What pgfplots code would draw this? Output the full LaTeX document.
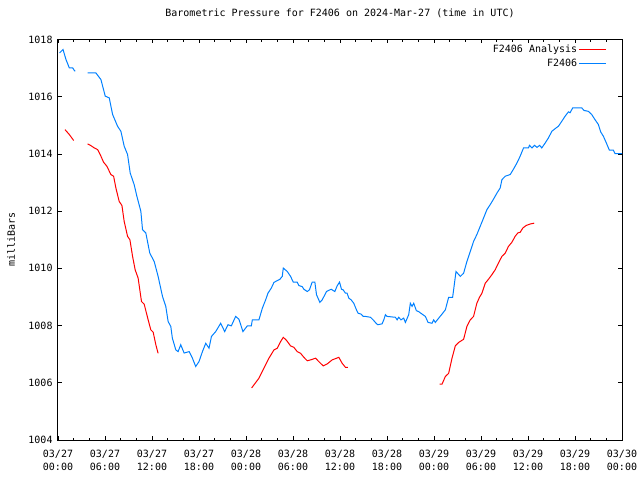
\documentclass[border=0pt]{standalone}
\usepackage{pgfplots}
\pgfplotsset{compat=1.18}
\usepackage{fontspec}
\setmainfont{DejaVu Sans Mono}
\setmonofont{DejaVu Sans Mono}
\definecolor{pblue}{RGB}{0,128,255}
\definecolor{pred}{RGB}{255,0,0}
\begin{document}
\fontsize{9.8}{12}\selectfont
\begin{tikzpicture}
\path[use as bounding box] (-58pt,-40pt) rectangle (582pt,440pt);
\begin{axis}[
  at={(0pt,0pt)}, anchor=south west,
  scale only axis, width=564pt, height=400.5pt,
  xmin=0, xmax=72, ymin=1004, ymax=1018,
  xtick={0,6,...,72},
  xticklabels={{03/27\\00:00},{03/27\\06:00},{03/27\\12:00},{03/27\\18:00},{03/28\\00:00},{03/28\\06:00},{03/28\\12:00},{03/28\\18:00},{03/29\\00:00},{03/29\\06:00},{03/29\\12:00},{03/29\\18:00},{03/30\\00:00}},
  minor x tick num=2,
  ytick={1004,1006,...,1018},
  /pgf/number format/1000 sep={},
  /pgf/number format/assume math mode=true,
  tick align=inside,
  major tick length=4pt, minor tick length=2.5pt,
  tick style={black, line width=0.8pt},
  axis line style={line width=1pt},
  xticklabel style={align=center, font=\fontsize{10}{12.5}\selectfont, yshift=-7pt},
  yticklabel style={font=\fontsize{10}{12}\selectfont, xshift=-2pt},
  title={Barometric Pressure for F2406 on 2024-Mar-27 (time in UTC)},
  title style={at={(0.5,1)}, anchor=center, yshift=20pt, font=\fontsize{10}{12}\selectfont},
  ylabel={milliBars},
  ylabel style={at={(axis description cs:-0.083,0.5)}, anchor=center, font=\fontsize{10}{12}\selectfont},
  legend style={at={(1,1)}, anchor=north east, xshift=-12pt, yshift=-2pt, draw=none, fill=none, font=\fontsize{10}{12}\selectfont, row sep=1.5pt, nodes={inner sep=1.5pt}},
  legend cell align=right,
  legend plot pos=right,
  every axis plot/.append style={line width=1pt},
]
\addlegendimage{legend image code/.code={\draw[draw=pred, line width=1.1pt] (0pt,0pt) -- (27pt,0pt);}}
\addlegendentry{F2406 Analysis}
\addlegendimage{legend image code/.code={\draw[draw=pblue, line width=1.1pt] (0pt,0pt) -- (27pt,0pt);}}
\addlegendentry{F2406}
\addplot[pred, forget plot] coordinates {(0.89,1014.85)(1.44,1014.68)(2.0,1014.47)};
\addplot[pblue, forget plot] coordinates {(0.2,1017.53)(0.64,1017.65)(1.02,1017.3)(1.44,1017.01)(1.87,1017.01)(2.08,1016.92)(2.2,1016.89)};

\addplot[pred, forget plot] coordinates {
(3.78,1014.35)(4.2,1014.29)(4.63,1014.21)(5.06,1014.15)(5.48,1013.92)(5.82,1013.71)(6.24,1013.57)(6.75,1013.28)(7.1,1013.22)(7.39,1012.81)(7.81,1012.34)(8.16,1012.2)(8.45,1011.64)(8.88,1011.12)(9.18,1011.0)(9.52,1010.42)(9.85,1009.95)(10.23,1009.66)(10.66,1008.84)(11.0,1008.75)(11.51,1008.2)(11.85,1007.85)(12.15,1007.77)(12.49,1007.33)(12.78,1007.03)};
\addplot[pred, forget plot] coordinates {
(24.72,1005.82)(25.65,1006.16)(26.29,1006.51)(26.93,1006.86)(27.57,1007.15)(28.0,1007.21)(28.42,1007.44)(28.76,1007.59)(29.18,1007.48)(29.69,1007.29)(30.11,1007.24)(30.54,1007.09)(30.97,1007.03)(31.39,1006.89)(31.82,1006.77)(32.24,1006.8)(32.88,1006.86)(33.3,1006.74)(33.86,1006.59)(34.37,1006.66)(35.0,1006.8)(35.85,1006.89)(36.28,1006.68)(36.7,1006.54)(37.0,1006.54)};
\addplot[pred, forget plot] coordinates {
(48.72,1005.95)(49.02,1005.95)(49.45,1006.22)(49.87,1006.33)(50.3,1006.86)(50.72,1007.29)(51.14,1007.41)(51.78,1007.52)(52.2,1007.97)(52.63,1008.2)(53.05,1008.32)(53.47,1008.78)(53.81,1008.99)(54.12,1009.13)(54.54,1009.48)(54.96,1009.62)(55.39,1009.78)(55.81,1009.95)(56.24,1010.19)(56.67,1010.42)(57.09,1010.53)(57.51,1010.77)(57.94,1010.91)(58.36,1011.12)(58.71,1011.24)(59.0,1011.26)(59.34,1011.41)(59.77,1011.5)(60.28,1011.55)(60.79,1011.58)};

\addplot[pblue, forget plot] coordinates {
(3.78,1016.83)(4.84,1016.83)(5.48,1016.6)(6.03,1016.02)(6.54,1015.96)(6.97,1015.38)(7.6,1014.97)(8.03,1014.79)(8.45,1014.27)(8.88,1013.98)(9.22,1013.33)(9.72,1012.93)(10.07,1012.52)(10.58,1011.99)(10.79,1011.35)(11.21,1011.24)(11.72,1010.53)(12.28,1010.24)(12.78,1009.72)(13.34,1009.02)(13.76,1008.67)(14.06,1008.14)(14.4,1007.97)(14.6,1007.56)(15.04,1007.15)(15.33,1007.09)(15.67,1007.33)(16.1,1007.04)(16.74,1007.09)(17.16,1006.86)(17.58,1006.57)(18.0,1006.74)(18.44,1007.09)(18.86,1007.38)(19.28,1007.21)(19.59,1007.62)(20.13,1007.79)(20.77,1008.08)(21.28,1007.79)(21.7,1008.03)(22.13,1007.99)(22.68,1008.32)(23.1,1008.22)(23.61,1007.79)(24.17,1007.99)(24.68,1007.99)(24.81,1008.2)(25.65,1008.2)(26.09,1008.61)(26.51,1008.9)(26.8,1009.13)(27.23,1009.31)(27.57,1009.51)(28.33,1009.62)(28.63,1009.72)(28.76,1010.01)(29.27,1009.89)(29.69,1009.72)(30.03,1009.52)(30.54,1009.52)(30.75,1009.4)(31.18,1009.36)(31.39,1009.27)(31.82,1009.19)(32.1,1009.25)(32.45,1009.52)(32.79,1009.52)(33.0,1009.08)(33.43,1008.81)(33.73,1008.9)(34.28,1009.19)(34.87,1009.27)(35.34,1009.19)(35.64,1009.39)(35.94,1009.52)(36.19,1009.27)(36.4,1009.25)(36.7,1009.13)(36.91,1009.13)(37.12,1008.96)(37.42,1008.9)(37.76,1008.78)(38.1,1008.55)(38.32,1008.43)(38.7,1008.4)(38.96,1008.32)(39.25,1008.32)(39.89,1008.29)(40.23,1008.2)(40.61,1008.08)(40.82,1008.03)(41.37,1008.06)(41.59,1008.2)(41.8,1008.38)(42.01,1008.32)(43.07,1008.29)(43.29,1008.2)(43.49,1008.29)(43.79,1008.2)(44.13,1008.26)(44.35,1008.11)(44.77,1008.38)(44.98,1008.78)(45.2,1008.67)(45.41,1008.78)(45.75,1008.52)(46.04,1008.49)(46.48,1008.4)(46.9,1008.32)(47.24,1008.11)(47.75,1008.08)(47.96,1008.2)(48.17,1008.11)(48.6,1008.26)(49.02,1008.4)(49.45,1008.55)(49.87,1008.99)(50.38,1008.99)(50.81,1009.89)(51.36,1009.72)(51.78,1009.83)(52.2,1010.24)(52.63,1010.59)(53.05,1010.94)(53.47,1011.18)(53.9,1011.47)(54.33,1011.76)(54.75,1012.05)(55.18,1012.23)(55.6,1012.42)(56.03,1012.63)(56.45,1012.81)(56.67,1013.1)(57.09,1013.22)(57.73,1013.28)(58.15,1013.47)(58.58,1013.68)(59.0,1013.92)(59.43,1014.21)(60.06,1014.21)(60.19,1014.3)(60.5,1014.21)(60.84,1014.3)(61.15,1014.23)(61.49,1014.3)(61.76,1014.21)(62.19,1014.38)(62.61,1014.56)(63.04,1014.79)(63.59,1014.91)(63.89,1014.97)(64.31,1015.14)(64.74,1015.32)(65.16,1015.47)(65.37,1015.44)(65.71,1015.61)(66.86,1015.61)(67.15,1015.52)(67.7,1015.49)(68.13,1015.38)(68.55,1015.2)(68.98,1015.03)(69.28,1014.77)(69.62,1014.62)(69.96,1014.41)(70.39,1014.13)(70.9,1014.13)(71.12,1014.01)(72.0,1014.01)};
\end{axis}
\end{tikzpicture}
\end{document}
